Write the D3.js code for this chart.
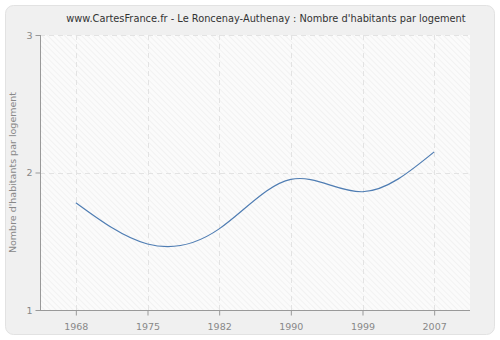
<!DOCTYPE html>
<html>
<head>
<meta charset="utf-8">
<script src="https://cdn.jsdelivr.net/npm/d3@7"></script>
<style>
  html, body { margin: 0; padding: 0; background: #ffffff; }
  svg { display: block; font-family: "DejaVu Sans", Verdana, sans-serif; }
</style>
</head>
<body>
<div id="chart"></div>
<script>
// Nombre d'habitants par logement, recensements successifs
const years = ["1968", "1975", "1982", "1990", "1999", "2007"];
const values = [1.78, 1.48, 1.59, 1.95, 1.86, 2.15];
const yTicks = [1, 2, 3];
const title = "www.CartesFrance.fr - Le Roncenay-Authenay : Nombre d'habitants par logement";
const yLabel = "Nombre d'habitants par logement";

const W = 500, H = 340;
const plot = { left: 40, right: 470, top: 35, bottom: 310 };

const svg = d3.select("#chart").append("svg")
  .attr("width", W).attr("height", H);

// hatch pattern for the plotting area
const defs = svg.append("defs");
const pat = defs.append("pattern")
  .attr("id", "hatch")
  .attr("patternUnits", "userSpaceOnUse")
  .attr("width", 4).attr("height", 4)
  .attr("patternTransform", "rotate(-45)");
pat.append("rect").attr("width", 4).attr("height", 4).attr("fill", "#fbfbfb");
pat.append("line").attr("x1", 0).attr("y1", 0).attr("x2", 0).attr("y2", 4)
  .attr("stroke", "#ececec").attr("stroke-width", 1.2);

// outer panel
svg.append("rect")
  .attr("x", 5.5).attr("y", 5.5).attr("width", 489).attr("height", 329)
  .attr("rx", 8).attr("ry", 8)
  .attr("fill", "#f0f0f0").attr("stroke", "#e2e2e2");

const x = d3.scalePoint().domain(years).range([plot.left, plot.right]).padding(0.5);
const y = d3.scaleLinear().domain([1, 3]).range([plot.bottom, plot.top]);

svg.append("rect")
  .attr("x", plot.left).attr("y", plot.top)
  .attr("width", plot.right - plot.left).attr("height", plot.bottom - plot.top)
  .attr("fill", "url(#hatch)");

// grid lines
const grid = svg.append("g").attr("stroke", "#e3e3e3").attr("stroke-dasharray", "5,4");
grid.selectAll("line.v").data(years).join("line")
  .attr("x1", d => Math.round(x(d)) + 0.5).attr("x2", d => Math.round(x(d)) + 0.5)
  .attr("y1", plot.top).attr("y2", plot.bottom);
grid.selectAll("line.h").data(yTicks.filter(t => t > 1)).join("line")
  .attr("x1", plot.left).attr("x2", plot.right)
  .attr("y1", d => Math.round(y(d)) + 0.5).attr("y2", d => Math.round(y(d)) + 0.5);

// axes
const xAxis = svg.append("g")
  .attr("transform", `translate(0,${plot.bottom + 0.5})`)
  .call(d3.axisBottom(x).tickSize(5).tickSizeOuter(0));
const yAxis = svg.append("g")
  .attr("transform", `translate(${plot.left + 0.5},0)`)
  .call(d3.axisLeft(y).tickValues(yTicks).tickFormat(d3.format("d")).tickSize(5).tickSizeOuter(0));

[xAxis, yAxis].forEach(g => {
  g.selectAll(".tick line").attr("stroke", "#999");
  g.selectAll(".tick text").attr("fill", "#888").attr("font-size", 9.5)
    .attr("font-family", "DejaVu Sans, Verdana, sans-serif");
});
xAxis.select(".domain").attr("stroke", "#999").attr("d", `M${plot.left},0H${plot.right}`);
yAxis.select(".domain").attr("stroke", "#999").attr("d", `M0,${plot.top}V${plot.bottom}`);
xAxis.selectAll(".tick text").attr("dy", "1.25em");

// the curve
const line = d3.line()
  .x((d, i) => x(years[i]))
  .y(d => y(d))
  .curve(d3.curveNatural);
svg.append("path")
  .datum(values)
  .attr("d", line)
  .attr("fill", "none")
  .attr("stroke", "#4f7db3")
  .attr("stroke-width", 1.2);

// title
svg.append("text")
  .attr("x", 266).attr("y", 22)
  .attr("text-anchor", "middle")
  .attr("font-size", 9.8)
  .attr("fill", "#333")
  .text(title);

// y axis label
svg.append("text")
  .attr("transform", `translate(16,${(plot.top + plot.bottom) / 2}) rotate(-90)`)
  .attr("text-anchor", "middle")
  .attr("font-size", 9.5)
  .attr("fill", "#888")
  .text(yLabel);
</script>
</body>
</html>
